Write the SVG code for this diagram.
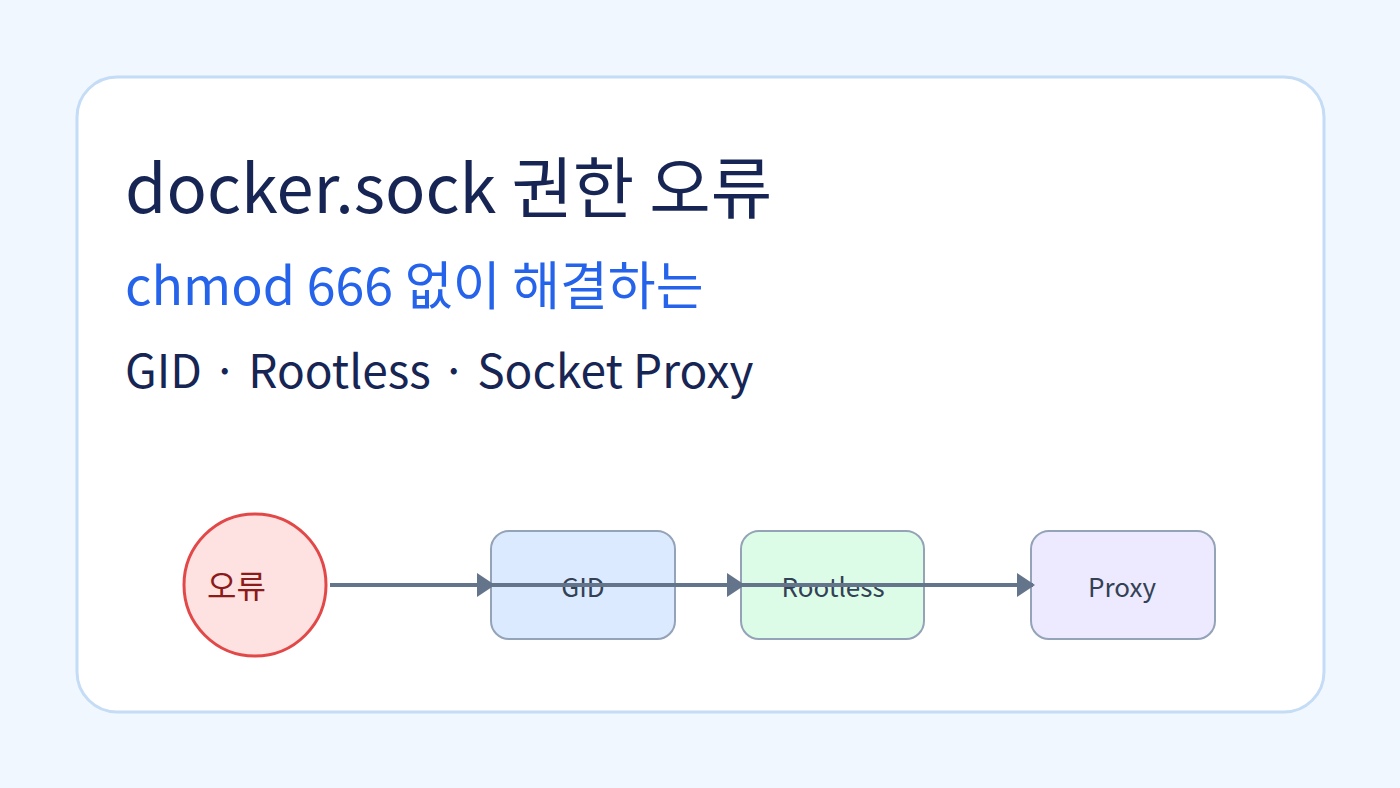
<svg xmlns="http://www.w3.org/2000/svg" width="1400" height="788" viewBox="0 0 1400 788">
<style>
text{font-family:"Noto Sans CJK KR","Noto Sans",sans-serif}
.box{stroke:#94a3b8;stroke-width:2}
.lbl{font-size:26px;fill:#334155;text-anchor:middle}
.edge{stroke:#64748b;stroke-width:4;fill:none}
</style>
<defs><marker id="ah" viewBox="0 0 18 24" refX="16" refY="12" markerWidth="18" markerHeight="24" markerUnits="userSpaceOnUse" orient="auto"><path d="M0,0L18,12L0,24z" fill="#64748b"/></marker></defs>
<rect width="1400" height="788" fill="#f1f7fe"/>
<rect x="77" y="77" width="1247" height="635" rx="40" fill="#fff" stroke="#c4dcf6" stroke-width="3"/>
<text x="125" y="213" font-size="66.8" fill="#172554">docker.sock 권한 오류</text>
<text x="125" y="305" font-size="52" fill="#2563eb">chmod 666 없이 해결하는</text>
<text x="125" y="388" font-size="46" fill="#172554">GID · Rootless · Socket Proxy</text>
<g id="err"><circle cx="255" cy="585" r="71" fill="#fee2e2" stroke="#e24848" stroke-width="3"/><text x="207" y="598" font-size="32" fill="#8b1a1a">오류</text></g>
<g id="gid"><rect class="box" x="491" y="531" width="184" height="108" rx="18" fill="#dbeafe"/><text class="lbl" x="583" y="597">GID</text></g>
<g id="rootless"><rect class="box" x="741" y="531" width="183" height="108" rx="18" fill="#dcfce7"/><text class="lbl" x="833" y="597">Rootless</text></g>
<g id="proxy"><rect class="box" x="1031" y="531" width="184" height="108" rx="18" fill="#ede9fe"/><text class="lbl" x="1122" y="597">Proxy</text></g>
<g id="edges">
<line class="edge" x1="330" y1="585" x2="493" y2="585" marker-end="url(#ah)"/>
<line class="edge" x1="491" y1="585" x2="743" y2="585" marker-end="url(#ah)"/>
<line class="edge" x1="741" y1="585" x2="1033" y2="585" marker-end="url(#ah)"/>
</g>
</svg>
